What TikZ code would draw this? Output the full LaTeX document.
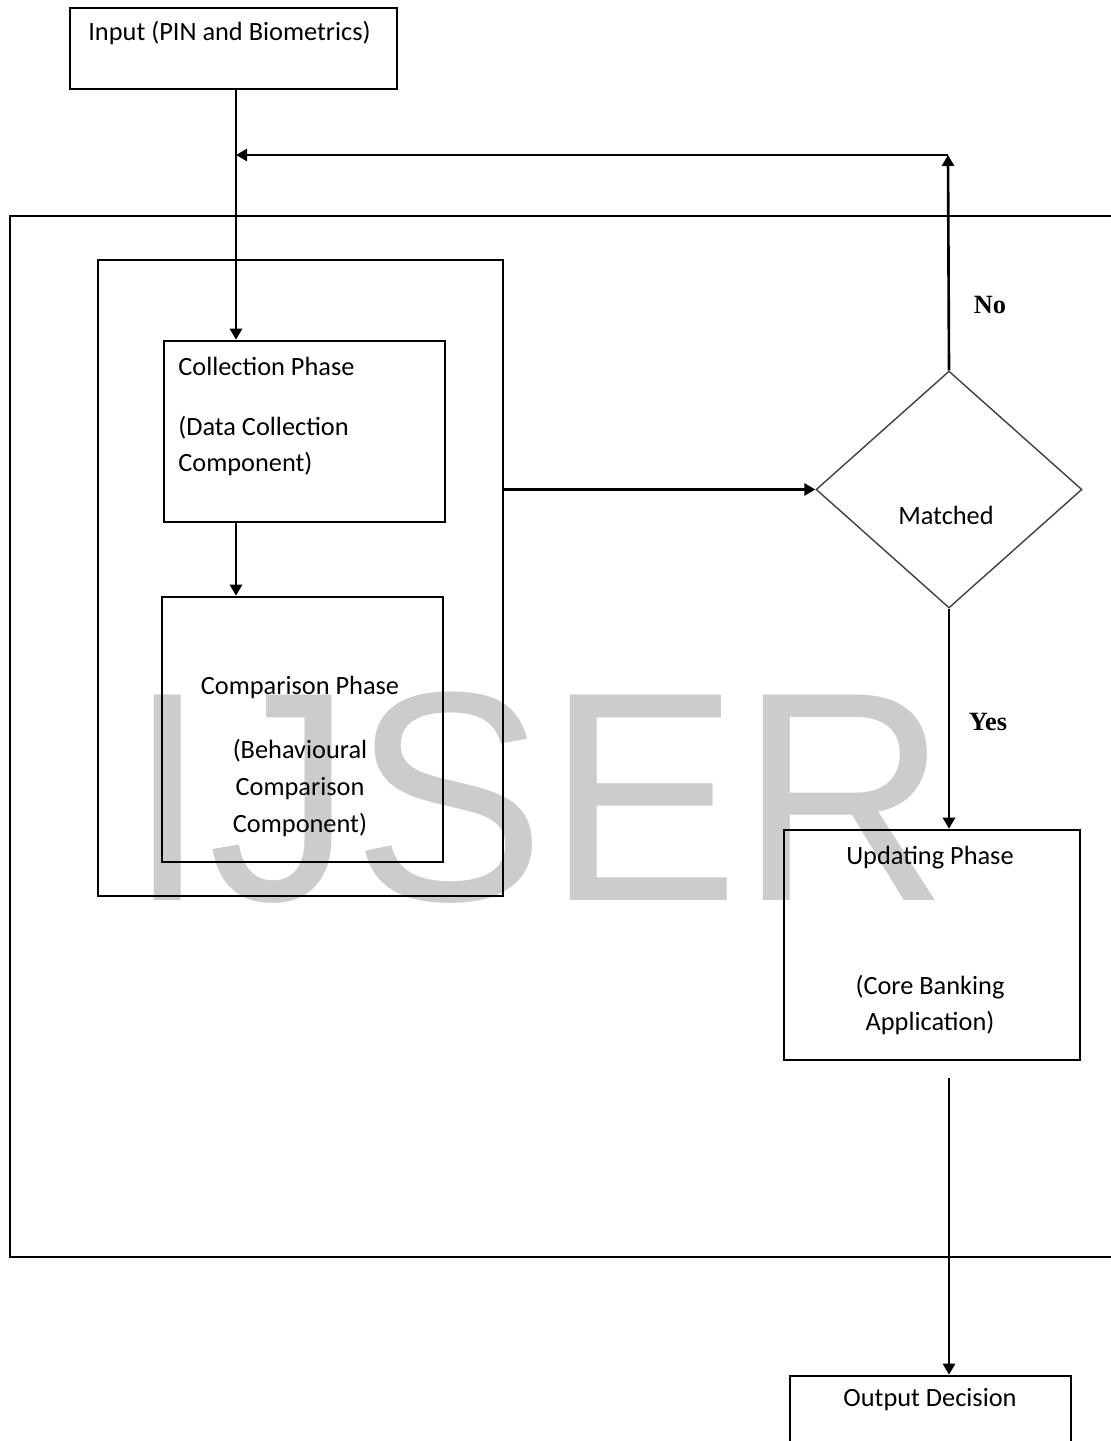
\documentclass[tikz,border=0pt]{standalone}
\usepackage{fontspec}
\setmainfont{Carlito}
\newfontfamily\yesnofont{Liberation Serif}
\newfontfamily\markfont{Liberation Sans}
\usetikzlibrary{arrows.meta,shapes.geometric}

\begin{document}
\begin{tikzpicture}[
  x=0.02cm, y=-0.02cm,
  every node/.style={font=\fontsize{15}{21}\selectfont},
  box/.style={draw,line width=1.5pt,inner sep=0pt},
  txt/.style={inner sep=0pt,align=left},
  ctxt/.style={inner sep=0pt,align=center},
  arr/.style={-{Triangle[length=2.2mm,width=2.4mm]},line width=1.5pt},
  lbl/.style={font=\yesnofont\bfseries\fontsize{15}{15}\selectfont}
]
\useasboundingbox (0,0) rectangle (1111,1441);
\clip (0,0) rectangle (1111,1441);
% watermark behind everything
\node[font=\markfont\fontsize{170}{170}\selectfont,text=black!20,anchor=base,xscale=0.97] (mark) at (538,900) {IJSER};

% frames
\draw[line width=1.5pt] (1120,216) -| (10,1257) -- (1120,1257);
\node[box,minimum width=8.1cm,minimum height=12.72cm] (inner) at (300.5,578) {};

% boxes
\node[box,minimum width=6.54cm,minimum height=1.62cm] (input) at (233.5,48.5) {};
\node[box,minimum width=5.62cm,minimum height=3.62cm] (collect) at (304.5,431.5) {};
\node[box,minimum width=5.62cm,minimum height=5.3cm] (compare) at (302.5,729.5) {};
\node[draw=black!75,line width=0.8pt,diamond,minimum width=5.32cm,minimum height=4.74cm,inner sep=0pt] (match) at (949,489.5) {};
\node[box,minimum width=5.92cm,minimum height=4.6cm] (update) at (932,945) {};
\node[box,minimum width=5.62cm,minimum height=2cm] (output) at (930.5,1426) {};

% texts
\node[txt,anchor=west] (inputtxt) at (88,33) {Input (PIN and Biometrics)};
\node[txt,anchor=west] (collecttit) at (178,366) {Collection Phase};
\node[txt,anchor=west] (collecttxt) at (178,446) {(Data Collection\\Component)};
\node[ctxt] (comparetit) at (300,687) {Comparison Phase};
\node[ctxt] (comparetxt) at (300,788) {(Behavioural\\Comparison\\Component)};
\node[ctxt] (matchtxt) at (946,515) {Matched};
\node[ctxt] (updatetit) at (930,858) {Updating Phase};
\node[ctxt] (updatetxt) at (930,1005) {(Core Banking\\Application)};
\node[ctxt] (outputtxt) at (930,1400) {Output Decision};
\node[lbl] (no) at (990,305) {No};
\node[lbl] (yes) at (988,722) {Yes};

% connectors
\coordinate (spine) at (236,89);
\coordinate (turn) at (948,155);
\coordinate (join) at (spine |- turn);
\draw[arr] (spine) -- (spine |- collect.north);
\draw[arr] (spine |- collect.south) -- (spine |- compare.north);
\draw[arr] (inner.east |- match.west) -- (match.west);
\draw[arr] (match.north) -- (turn);
\draw[arr] (turn) -- (join);
\draw[arr] (match.south) -- (match.south |- update.north);
\draw[arr,shorten <=0.34cm] (match.south |- update.south) -- (match.south |- output.north);
\end{tikzpicture}
\end{document}
